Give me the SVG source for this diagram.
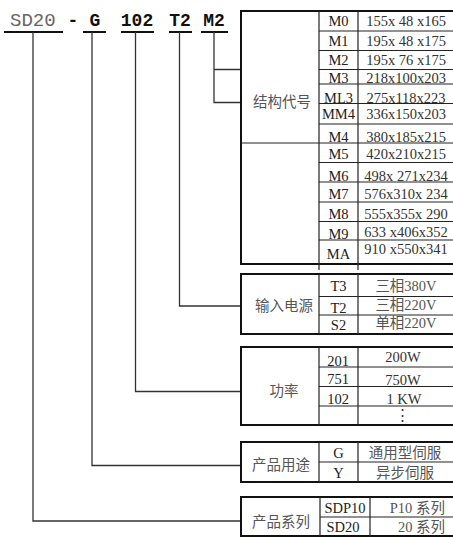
<svg xmlns="http://www.w3.org/2000/svg" width="453" height="537" viewBox="0 0 453 537">
<style>
.hd{font-family:"Liberation Mono",monospace;font-size:18px;font-weight:bold;fill:#111}
.hs{font-family:"Liberation Mono",monospace;font-size:19px;fill:#666}
.ul{stroke:#111;stroke-width:2;fill:none}
.cn{stroke:#333;stroke-width:1.3;fill:none}
.ob{stroke:#111;stroke-width:2;fill:none}
.ln{stroke:#222;stroke-width:1.2;fill:none}
.lab{font-family:"Noto Sans CJK SC","Noto Sans",sans-serif;font-size:14.5px;fill:#555;text-anchor:middle}
.cd{font-family:"Liberation Serif","Noto Sans CJK SC",serif;font-size:14.5px;fill:#222;text-anchor:middle}
.vl{font-family:"Liberation Serif","Noto Sans CJK SC",serif;font-size:14.5px;fill:#333;text-anchor:middle}
.vc{font-family:"Liberation Serif","Noto Sans CJK SC",serif;font-size:14.5px;fill:#555;text-anchor:middle}
.ve{font-family:"Liberation Serif","Noto Sans CJK SC",serif;font-size:14.5px;fill:#555;text-anchor:end}
</style>

<g id="header">
<text class="hs" x="10" y="26">SD20</text>
<text class="hd" x="73" y="26" text-anchor="middle">-</text>
<text class="hd" x="95" y="26" text-anchor="middle">G</text>
<text class="hd" x="137" y="26" text-anchor="middle">102</text>
<text class="hd" x="180" y="26" text-anchor="middle">T2</text>
<text class="hd" x="214" y="26" text-anchor="middle">M2</text>
<path class="ul" d="M4 32H63M83 32H106M121 32H154M169 32H192M201 32H228"/>
</g>

<g id="connectors">
<path class="cn" d="M33 32V521H241"/>
<path class="cn" d="M92 32V465.5H241"/>
<path class="cn" d="M135.5 32V391.5H241"/>
<path class="cn" d="M179.5 32V306H241"/>
<path class="cn" d="M214 32V102.5H241M214 69.5H241"/>
</g>

<g id="box-structure">
<path class="ob" d="M460 11H241V264H460"/>
<path class="ln" d="M319 11V270M358 11V270M241 143H319"/>
<path class="ln" d="M319 31H453M319 50.5H453M319 69.5H453M319 84H453M319 103.5H453M319 124H453M319 143H453M319 162.5H453M319 182H453M319 202H453M319 221.5H453M319 240H453"/>
<text class="lab" x="282" y="107">结构代号</text>
<text class="cd" x="338.5" y="26">M0</text><text class="vl" x="406" y="26">155x 48 x165</text>
<text class="cd" x="338.5" y="46">M1</text><text class="vl" x="406" y="46">195x 48 x175</text>
<text class="cd" x="338.5" y="65">M2</text><text class="vl" x="406" y="65">195x 76 x175</text>
<text class="cd" x="338.5" y="83">M3</text><text class="vl" x="406" y="83">218x100x203</text>
<text class="cd" x="338.5" y="102.5">ML3</text><text class="vl" x="406" y="102.5">275x118x223</text>
<text class="cd" x="338.5" y="119">MM4</text><text class="vl" x="406" y="119">336x150x203</text>
<text class="cd" x="338.5" y="142">M4</text><text class="vl" x="406" y="142">380x185x215</text>
<text class="cd" x="338.5" y="159">M5</text><text class="vl" x="406" y="159">420x210x215</text>
<text class="cd" x="338.5" y="181">M6</text><text class="vl" x="406" y="181">498x 271x234</text>
<text class="cd" x="338.5" y="199">M7</text><text class="vl" x="406" y="199">576x310x 234</text>
<text class="cd" x="338.5" y="219">M8</text><text class="vl" x="406" y="219">555x355x 290</text>
<text class="cd" x="338.5" y="239">M9</text><text class="vl" x="406" y="237">633 x406x352</text>
<text class="cd" x="338.5" y="259">MA</text><text class="vl" x="406" y="254">910 x550x341</text>
</g>

<g id="box-power-input">
<path class="ob" d="M460 274H241V334H460"/>
<path class="ln" d="M319 274V334M358 274V334M319 296.5H453M319 315H453"/>
<text class="lab" x="284" y="311">输入电源</text>
<text class="cd" x="338.5" y="291">T3</text><text class="vc" x="406" y="291">三相380V</text>
<text class="cd" x="338.5" y="313">T2</text><text class="vc" x="406" y="310">三相220V</text>
<text class="cd" x="338.5" y="330">S2</text><text class="vc" x="406" y="328">单相220V</text>
</g>

<g id="box-power">
<path class="ob" d="M460 347H241V425H460"/>
<path class="ln" d="M319 347V425M358 347V425M319 367H453M319 386.5H453M319 406H453"/>
<text class="lab" x="284" y="396">功率</text>
<text class="cd" x="338" y="366">201</text><text class="vl" x="403" y="362">200W</text>
<text class="cd" x="338" y="384">751</text><text class="vl" x="403" y="385">750W</text>
<text class="cd" x="338" y="404">102</text><text class="vl" x="404" y="404">1 KW</text>
<text class="vl" x="402" y="420">⋮</text>
</g>

<g id="box-usage">
<path class="ob" d="M460 442H241V482H460"/>
<path class="ln" d="M319 442V482M358 442V482M319 462H453"/>
<text class="lab" x="281" y="470">产品用途</text>
<text class="cd" x="338.5" y="458">G</text><text class="vc" x="405" y="458">通用型伺服</text>
<text class="cd" x="338.5" y="478">Y</text><text class="vc" x="405" y="478">异步伺服</text>
</g>

<g id="box-series">
<path class="ob" d="M460 497H241V536H460"/>
<path class="ln" d="M320 497V537M370 497V537M320 517H453"/>
<text class="lab" x="281" y="527">产品系列</text>
<text class="cd" x="345" y="513">SDP10</text><text class="ve" x="445" y="513">P10 系列</text>
<text class="cd" x="343" y="532">SD20</text><text class="ve" x="445" y="532">20 系列</text>
</g>
</svg>
